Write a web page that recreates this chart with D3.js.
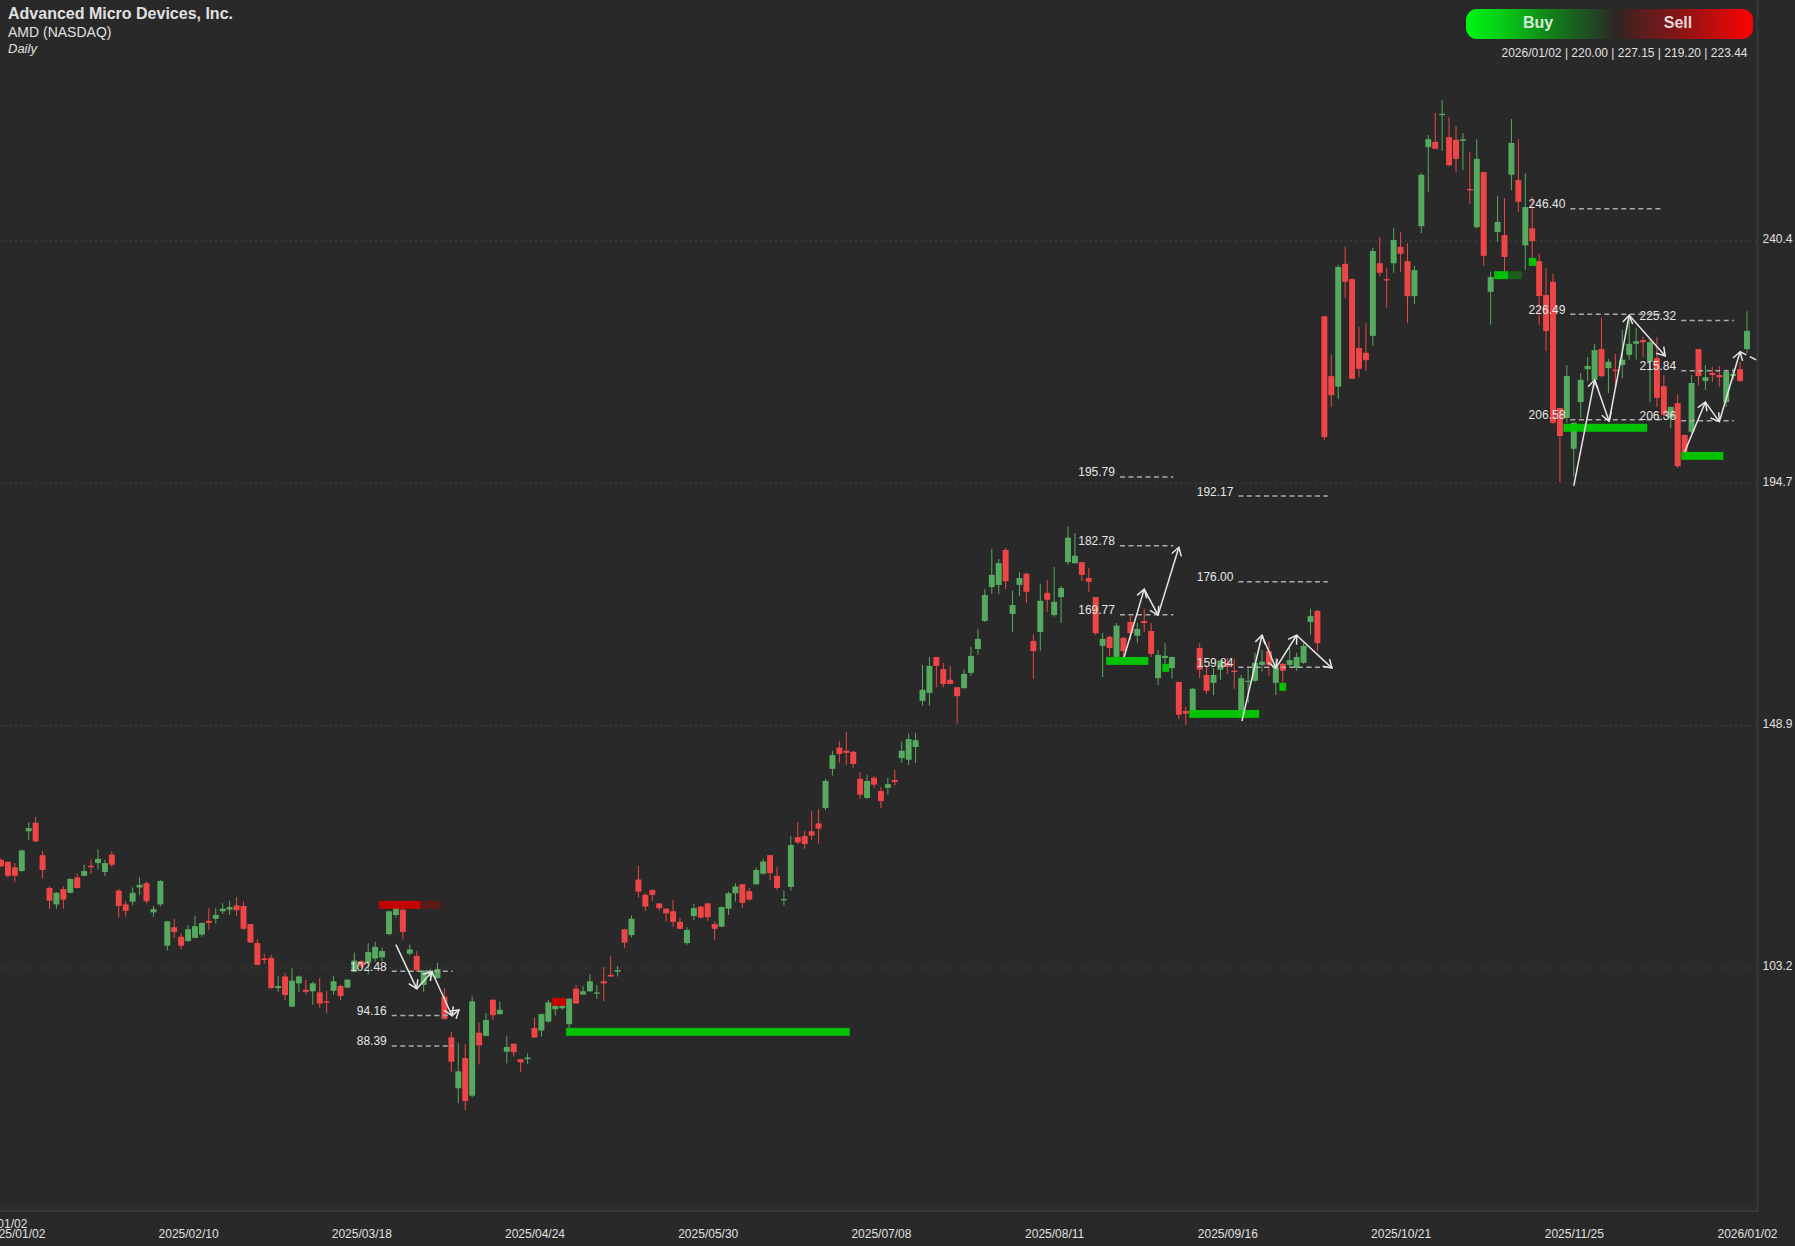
<!DOCTYPE html>
<html>
<head>
<meta charset="utf-8">
<title>AMD Daily</title>
<script src="https://cdn.jsdelivr.net/npm/d3@7"></script>
<style>
html,body{margin:0;padding:0;background:#292929;overflow:hidden}
svg{display:block}
text{font-family:"Liberation Sans",Arial,Helvetica,sans-serif}
</style>
</head>
<body>
<svg id="chart" width="1795" height="1246"></svg>
<script>
const open = [
123.6,123.2,122.2,121.5,129.0,130.6,124.5,118.3,115.2,118.1,
117.4,120.3,120.6,122.5,123.0,121.3,124.6,117.8,115.2,115.7,
118.4,119.2,113.7,115.2,107.4,110.9,109.1,108.3,108.9,109.5,
112.1,112.5,113.9,114.2,115.0,114.9,111.5,107.9,105.0,105.1,
99.4,101.6,95.9,100.3,99.1,98.8,98.6,96.9,98.9,99.8,
99.5,102.5,104.5,104.2,105.0,105.2,109.6,113.2,114.2,105.9,
105.5,100.0,101.6,101.3,97.8,90.1,80.5,86.2,79.1,91.0,
90.4,97.2,94.5,87.4,88.9,86.0,86.0,91.9,91.4,93.1,
95.4,95.6,92.6,99.3,98.2,98.8,98.4,100.7,101.9,102.5,
110.5,109.4,119.9,117.0,117.9,115.4,114.4,113.9,111.9,107.9,
113.0,114.8,115.4,111.5,111.0,114.4,117.3,119.0,117.7,119.0,
121.0,124.5,120.6,116.0,118.5,127.9,128.1,129.0,130.5,133.4,
140.8,144.8,144.2,144.0,138.9,135.3,139.1,136.6,137.2,138.7,
142.8,142.5,144.9,153.6,155.1,161.9,159.6,157.6,156.2,156.0,
158.9,163.4,168.7,175.1,175.5,182.1,170.0,175.5,177.6,164.9,
166.6,174.0,169.8,173.2,179.8,179.6,179.8,176.8,173.2,164.0,
165.7,161.9,165.5,168.5,165.9,168.7,166.8,157.9,161.7,159.8,
157.2,151.7,151.3,163.6,158.5,157.0,159.5,160.8,159.3,150.6,
157.2,157.4,160.4,163.0,157.0,160.6,160.4,159.8,160.8,168.5,
170.6,226.2,214.9,212.9,236.1,233.2,220.2,219.3,222.5,236.2,
233.2,236.2,239.3,236.6,230.0,243.2,258.1,259.1,264.2,260.0,
259.5,259.3,250.2,243.0,253.4,230.8,242.1,241.5,252.9,251.9,
239.6,242.8,236.6,230.2,232.7,208.9,207.0,201.2,210.0,216.2,
214.2,220.0,216.4,216.1,217.0,218.9,221.0,221.7,217.6,218.3,
213.0,207.0,209.8,203.8,204.4,220.0,214.0,215.5,215.1,210.0,
214.9,216.2,220.00];
const close = [
122.4,120.6,120.6,125.4,129.6,127.1,121.7,115.9,117.4,116.1,
120.0,118.3,121.5,122.2,123.8,123.0,122.7,114.9,114.0,117.4,
118.9,115.8,114.3,119.6,112.0,110.0,107.4,110.5,111.1,111.7,
111.7,113.2,114.4,114.7,114.1,110.6,108.0,103.8,104.7,99.4,
99.8,98.1,100.8,101.6,98.7,100.3,96.5,96.7,100.7,97.9,
101.0,104.6,103.5,106.2,107.2,106.4,113.9,114.5,110.0,106.7,
102.8,102.7,102.7,103.0,93.6,85.5,83.7,78.1,96.9,88.6,
93.4,94.3,95.3,88.3,87.3,85.4,86.3,90.1,94.5,96.7,
96.1,96.1,97.4,96.5,98.8,100.7,98.6,100.3,101.6,102.8,
108.0,112.5,117.6,114.8,117.0,114.5,113.5,111.9,110.6,110.4,
114.5,112.7,112.8,110.6,114.7,117.3,118.6,115.5,116.1,121.7,
123.3,121.1,118.3,116.2,126.4,126.9,126.6,128.2,129.5,138.5,
143.4,143.6,143.8,141.7,135.9,138.5,137.8,134.7,137.9,138.3,
144.2,146.4,146.2,155.7,160.2,160.2,156.8,156.8,154.5,158.7,
162.1,165.3,173.6,177.4,179.6,176.2,171.7,176.8,174.2,163.0,
172.5,172.7,172.3,174.9,184.4,181.0,177.4,176.1,166.4,165.3,
163.6,167.8,163.0,166.4,167.2,168.3,162.5,162.3,162.1,161.9,
151.0,151.2,155.9,159.5,155.5,158.5,161.2,160.0,159.1,157.9,
157.4,160.8,161.0,160.4,160.0,159.3,161.3,161.9,164.0,169.6,
164.5,203.4,211.3,235.5,232.7,214.4,216.3,217.9,238.5,234.4,
233.0,240.6,238.0,230.0,234.9,252.9,259.6,257.8,264.4,254.7,
255.9,259.6,250.0,255.9,237.6,233.6,244.0,237.4,258.9,247.8,
246.8,240.4,230.0,223.4,206.1,203.6,214.9,206.1,214.2,216.8,
219.8,214.9,217.6,215.9,218.0,221.0,221.5,221.3,221.3,210.8,
207.6,209.1,197.9,200.6,213.6,214.9,214.7,215.1,214.7,215.7,
215.3,214.0,223.44];
const high = [
123.9,123.4,123.0,125.5,130.7,131.7,125.3,118.6,117.5,118.6,
120.1,121.0,122.7,123.7,125.6,123.6,125.2,118.1,115.9,118.4,
120.3,119.5,114.9,119.8,112.1,112.5,109.8,111.3,113.0,111.8,
114.5,114.5,115.4,115.9,116.6,115.7,111.5,108.6,105.9,105.7,
101.7,102.3,103.2,101.8,101.0,100.6,101.3,98.9,101.7,100.0,
101.1,106.1,104.7,107.9,108.2,107.1,114.0,115.4,115.7,107.6,
106.4,102.8,103.0,104.2,99.4,91.1,89.0,88.8,97.8,92.9,
94.7,97.3,96.8,90.4,89.0,86.0,87.1,93.8,94.6,97.2,
97.5,97.5,97.5,100.0,99.8,102.0,100.0,103.4,105.5,103.6,
110.6,113.1,122.5,117.3,118.1,115.4,114.4,116.1,112.7,110.9,
115.3,114.9,115.5,112.0,114.8,117.6,119.2,119.1,118.3,122.2,
123.9,124.5,122.2,117.8,128.1,130.7,129.1,132.8,133.2,138.9,
144.2,146.1,147.8,144.2,140.2,139.6,139.4,137.4,139.1,140.6,
145.9,147.4,147.6,160.4,161.9,161.9,160.8,160.2,156.2,159.5,
163.8,167.2,174.7,182.3,180.4,182.5,174.4,177.9,177.8,166.2,
175.7,176.4,178.9,175.3,186.6,185.3,179.8,178.7,173.2,166.4,
165.9,168.3,165.7,169.6,168.3,171.0,168.3,163.2,164.5,161.9,
157.2,152.5,156.1,164.5,160.0,159.8,161.3,161.7,161.5,158.5,
159.8,162.7,163.2,164.9,161.7,160.8,163.6,162.7,164.5,171.0,
170.8,226.2,218.9,235.9,239.3,233.4,224.2,224.9,239.1,241.2,
235.3,242.8,242.1,240.0,235.7,253.2,260.4,264.6,267.0,263.8,
262.1,260.8,257.2,259.6,253.4,234.6,248.9,248.5,263.4,259.6,
253.2,248.7,238.0,235.3,234.2,208.9,217.0,206.1,215.5,218.5,
221.0,225.9,218.1,219.1,223.6,226.1,224.0,222.3,221.7,222.3,
215.1,209.1,211.5,203.8,215.1,220.0,217.0,216.6,216.8,216.1,
216.3,217.6,227.15];
const low = [
122.2,120.3,119.4,121.4,127.3,126.9,120.1,114.4,114.4,114.4,
117.3,118.2,120.5,121.0,121.8,120.6,122.2,112.8,112.9,115.0,
117.0,115.4,112.9,114.8,106.5,108.9,106.7,108.1,108.8,109.1,
110.4,111.6,113.4,113.2,113.0,110.4,108.0,103.7,104.0,99.3,
98.7,97.1,95.9,98.7,98.2,96.3,95.7,94.7,98.1,97.2,
99.4,102.4,103.2,102.0,104.4,104.4,109.4,112.7,108.6,105.6,
102.5,98.7,101.3,101.2,93.5,83.5,77.7,76.4,78.8,85.0,
90.3,93.4,94.4,85.2,86.5,83.6,85.1,90.0,90.3,92.8,
94.2,95.3,91.8,96.4,98.1,98.7,97.4,96.9,101.5,101.6,
106.9,109.0,116.5,114.0,115.9,114.0,112.0,111.0,110.5,107.6,
112.2,112.6,112.1,108.5,110.9,113.2,115.7,114.6,115.9,118.9,
120.8,119.8,117.9,115.0,117.8,126.6,125.7,127.4,126.7,133.0,
139.5,141.9,141.5,141.0,135.1,135.1,137.2,133.4,135.9,137.6,
141.9,141.5,141.9,152.7,152.7,156.2,156.2,156.8,149.3,156.0,
158.3,162.3,168.5,173.8,173.8,174.7,166.6,173.4,172.1,157.8,
163.0,170.4,169.5,168.3,179.3,179.5,176.2,174.2,166.0,158.1,
162.1,161.9,161.9,165.1,164.5,166.6,161.9,156.6,159.1,157.8,
150.2,149.1,151.0,157.9,154.9,154.7,157.6,158.7,155.9,150.6,
153.2,157.2,159.1,158.3,154.7,157.0,160.0,159.3,160.6,166.1,
163.0,202.8,209.1,210.6,229.6,214.4,214.7,215.9,220.6,233.8,
227.8,234.4,234.6,224.9,228.5,241.9,249.6,257.8,257.4,254.5,
253.4,253.8,247.4,242.8,235.7,224.6,240.2,234.6,250.0,245.9,
234.9,237.2,224.6,219.6,205.9,194.9,206.1,195.9,207.0,214.0,
212.9,214.7,211.7,212.9,214.5,218.0,218.0,218.5,210.0,209.1,
207.2,205.1,197.6,200.4,204.2,213.2,212.3,213.8,212.9,209.1,
214.2,213.8,219.2];

// x axis: position of a tick in bar-count units, and its label
const xTickBars = [-0.6,2,27,52,77,102,127,152,177,202,227,252];
const xTickLabels = ["2025/01/02","2025/01/02","2025/02/10","2025/03/18","2025/04/24","2025/05/30","2025/07/08","2025/08/11","2025/09/16","2025/10/21","2025/11/25","2026/01/02"];
const yTicks = [240.4,194.7,148.9,103.2];

// dashed price levels [value, from bar, to bar]
const levelValues = [102.48,94.16,88.39, 195.79,182.78,169.77, 192.17,176.00,159.84, 246.40,226.49,206.58, 225.32,215.84,206.36];
const levelFrom   = [56.4,56.4,56.4, 161.5,161.5,161.5, 178.6,178.6,178.6, 226.5,226.5,226.5, 242.5,242.5,242.5];
const levelTo     = [65.2,65.2,65.2, 169.2,169.2,169.2, 191.5,191.5,191.5, 239.5,239.5,239.5, 250.1,250.1,250.1];

// zones
const zoneFrom = [54.56,79.5,81.55,159.5,167.6,171.5,184.5,215.5,220.5,225.5,242.5];
const zoneTo   = [60.5,81.55,122.5,165.6,168.6,181.6,185.5,217.5,221.6,237.6,248.6];
const zoneFade = [63.5,null,null,null,null,null,null,219.5,null,null,null];
const zoneTop  = [115.87,97.57,91.9,161.9,160.6,151.9,157.0,234.7,237.2,205.9,200.6];
const zoneBot  = [114.36,96.06,90.4,160.4,159.1,150.4,155.5,233.2,235.7,204.4,199.1];
const zoneSide = ["sell","sell","buy","buy","buy","buy","buy","buy","buy","buy","buy"];

// white arrow paths, [bar, value]
const arrowPaths = [
  [[57.0,107.6],[60.0,99.3],[62.2,102.5],[65.1,94.2],[66.1,95.3]],
  [[162.1,161.9],[165.0,174.7],[167.0,169.8],[170.0,182.6]],
  [[179.1,149.8],[182,166.0],[184,159.8],[187,166.0],[192.1,159.8]],
  [[227,194.2],[230,214.2],[232.1,206.4],[235,226.4],[240.2,218.7]],
  [[243,200.6],[246,210.0],[248,206.3],[251,219.5]]
];
const trailingArrow = [[251,219.5],[253.6,217.8]];

const plotRight = 1757.5, plotBottom = 1211;
const GREEN = "#55aa5f", RED = "#ee4646";
const svg = d3.select("#chart");
const x = d3.scaleLinear().domain([0,252]).range([1,1747]);
const y = d3.scaleLinear().domain([240.4,103.2]).range([241,968]);
const step = x(1)-x(0);

const defs = svg.append("defs");
const grad = defs.append("linearGradient").attr("id","pill");
[[0,"#00f514"],[0.12,"#06cf14"],[0.3,"#117f1a"],[0.44,"#1f4a24"],[0.52,"#2c2624"],[0.6,"#561e1e"],[0.75,"#8a1414"],[0.88,"#c80c0c"],[1,"#ff0000"]]
  .forEach(s=>grad.append("stop").attr("offset",s[0]).attr("stop-color",s[1]));
defs.append("clipPath").attr("id","plot").append("rect").attr("x",0).attr("y",0).attr("width",plotRight).attr("height",plotBottom);
const mk = defs.append("marker").attr("id","head").attr("markerUnits","userSpaceOnUse")
  .attr("markerWidth",20).attr("markerHeight",20).attr("refX",10).attr("refY",10).attr("orient","auto");
mk.append("path").attr("d","M2,5 L10,10 L2,15").attr("fill","none").attr("stroke","#e6e6e6").attr("stroke-width",1.5);

svg.append("rect").attr("width",1795).attr("height",1246).attr("fill","#292929");

// frame
svg.append("rect").attr("x",0).attr("y",1206).attr("width",plotRight).attr("height",5).attr("fill","#2c2c2c");
svg.append("line").attr("x1",0).attr("x2",plotRight+1).attr("y1",plotBottom).attr("y2",plotBottom).attr("stroke","#383838").attr("stroke-width",2);
svg.append("line").attr("x1",plotRight).attr("x2",plotRight).attr("y1",0).attr("y2",plotBottom).attr("stroke","#383838").attr("stroke-width",2);

// grid
svg.append("g").selectAll("line").data(yTicks).join("line")
  .attr("x1",0).attr("x2",plotRight).attr("y1",d=>y(d)).attr("y2",d=>y(d))
  .attr("stroke","#424242").attr("stroke-width",1).attr("stroke-dasharray","2 3");

const plot = svg.append("g").attr("clip-path","url(#plot)");

// candles
const bars = d3.range(open.length).map(i=>({i,o:open[i],h:high[i],l:low[i],c:close[i]}));
const colorOf = d=>d.c>=d.o?GREEN:RED;
plot.append("g").selectAll("line").data(bars).join("line")
  .attr("x1",d=>x(d.i)).attr("x2",d=>x(d.i)).attr("y1",d=>y(d.h)).attr("y2",d=>y(d.l))
  .attr("stroke",colorOf).attr("stroke-width",1);
plot.append("g").selectAll("rect").data(bars).join("rect")
  .attr("x",d=>x(d.i)-step*0.43).attr("width",step*0.86)
  .attr("y",d=>y(Math.max(d.o,d.c)))
  .attr("height",d=>Math.max(1.3,y(Math.min(d.o,d.c))-y(Math.max(d.o,d.c))))
  .attr("fill",colorOf);

// zones
const zones = d3.range(zoneFrom.length).map(i=>({from:zoneFrom[i],to:zoneTo[i],fade:zoneFade[i],top:zoneTop[i],bot:zoneBot[i],side:zoneSide[i]}));
plot.append("g").selectAll("rect").data(zones.filter(z=>z.fade!==null)).join("rect")
  .attr("x",d=>x(d.to)).attr("width",d=>x(d.fade)-x(d.to)).attr("y",d=>y(d.top)).attr("height",d=>y(d.bot)-y(d.top))
  .attr("fill",d=>d.side==="buy"?"#1c5e1c":"#5e1a1a");
plot.append("g").selectAll("rect").data(zones).join("rect")
  .attr("x",d=>x(d.from)).attr("width",d=>x(d.to)-x(d.from)).attr("y",d=>y(d.top)).attr("height",d=>y(d.bot)-y(d.top))
  .attr("fill",d=>d.side==="buy"?"#00cc00":"#d00000").attr("fill-opacity",0.93);

// levels
const levels = levelValues.map((v,i)=>({v,from:levelFrom[i],to:levelTo[i]}));
plot.append("g").selectAll("line").data(levels).join("line")
  .attr("x1",d=>x(d.from)).attr("x2",d=>x(d.to)).attr("y1",d=>y(d.v)-0.5).attr("y2",d=>y(d.v)-0.5)
  .attr("stroke","#ababab").attr("stroke-width",1.5).attr("stroke-dasharray","5 3.5");
svg.append("g").selectAll("text").data(levels).join("text")
  .attr("x",d=>x(d.from)-5).attr("y",d=>y(d.v)-1).attr("text-anchor","end")
  .attr("font-size",12).attr("fill","#e6e6e6").text(d=>d.v.toFixed(2));

// arrows
const line = d3.line().x(d=>x(d[0])).y(d=>y(d[1]));
const segs = arrowPaths.flatMap(p=>d3.pairs(p));
plot.append("g").selectAll("path").data(segs).join("path")
  .attr("d",line).attr("fill","none").attr("stroke","#e6e6e6").attr("stroke-width",1.5).attr("marker-end","url(#head)");
plot.append("path").datum(trailingArrow).attr("d",line).attr("fill","none")
  .attr("stroke","#e6e6e6").attr("stroke-width",1.5).attr("stroke-dasharray","7 4");

// axes
const xAxis = d3.axisBottom(x).tickValues(xTickBars).tickSize(0).tickPadding(0)
  .tickFormat((d,i)=>xTickLabels[i]);
const gx = svg.append("g").attr("transform","translate(0,1228)").call(xAxis);
gx.select(".domain").remove();
gx.selectAll("text").attr("font-size",12).attr("font-family","Liberation Sans").attr("fill","#e0e0e0")
  .attr("dy",(d,i)=>i===0?"0.0em":"0.8em");
gx.selectAll(".tick").filter((d,i)=>i===0).select("text").attr("y",-0.5);
gx.selectAll("line").remove();

const yAxis = d3.axisRight(y).tickValues(yTicks).tickSize(0).tickPadding(0).tickFormat(d=>d.toFixed(1));
const gy = svg.append("g").attr("transform","translate(1762.5,-2)").call(yAxis);
gy.select(".domain").remove();
gy.selectAll("line").remove();
gy.selectAll("text").attr("font-size",12).attr("font-family","Liberation Sans").attr("fill","#e0e0e0");

// header
svg.append("text").attr("x",8).attr("y",19).attr("font-size",16).attr("font-weight","bold").attr("fill","#e0e0e0").text("Advanced Micro Devices, Inc.");
svg.append("text").attr("x",8).attr("y",37).attr("font-size",14).attr("fill","#e0e0e0").text("AMD (NASDAQ)");
svg.append("text").attr("x",8).attr("y",53).attr("font-size",13).attr("font-style","italic").attr("fill","#e0e0e0").text("Daily");

// legend
svg.append("rect").attr("x",1466).attr("y",9).attr("width",287).attr("height",30).attr("rx",11).attr("fill","url(#pill)");
svg.append("text").attr("x",1538).attr("y",28).attr("text-anchor","middle").attr("font-size",16).attr("font-weight","bold").attr("fill","#d8e8d8").text("Buy");
svg.append("text").attr("x",1678).attr("y",28).attr("text-anchor","middle").attr("font-size",16).attr("font-weight","bold").attr("fill","#e8d8d8").text("Sell");
svg.append("text").attr("x",1747.5).attr("y",57).attr("text-anchor","end").attr("font-size",12).attr("fill","#e0e0e0").text("2026/01/02 | 220.00 | 227.15 | 219.20 | 223.44");
</script>
</body>
</html>
